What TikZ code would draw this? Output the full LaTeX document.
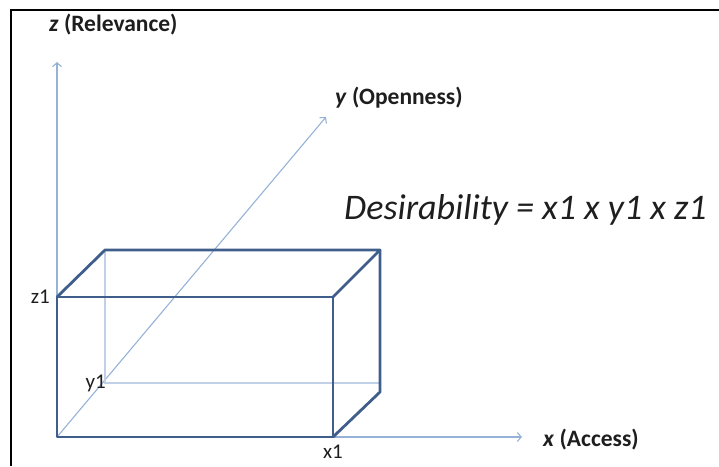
\documentclass[tikz,border=0pt]{standalone}
\usepackage{fontspec}
\setmainfont{Carlito}
\usetikzlibrary{arrows.meta}
\definecolor{boxblue}{RGB}{64,94,140}
\definecolor{axisblue}{RGB}{150,178,214}
\definecolor{backblue}{RGB}{192,208,230}
\definecolor{textgray}{RGB}{30,30,30}

\begin{document}
\begin{tikzpicture}[x=1pt,y=-1pt,
	axis/.style={draw=axisblue,line width=1.1pt,-{Straight Barb[length=4pt,width=9pt]}},
	hidden/.style={draw=backblue,line width=1.3pt},
	boxline/.style={draw=boxblue,line width=2.8pt,line join=round},
	axislabel/.style={anchor=west,inner sep=0pt,text=textgray,font=\fontsize{23.5}{28}\selectfont\bfseries},
	valuelabel/.style={inner sep=0pt,text=textgray,font=\fontsize{21}{25}\selectfont}]
	\useasboundingbox (0,0) rectangle (719,466);
	% frame
	\draw [line width=2.5pt] (11,466) |- (719,10);
	% axes
	\coordinate (o) at (57,437);
	\coordinate (xtip) at (522,437);
	\coordinate (ytip) at (326,117);
	\coordinate (ztip) at (57,62);
	\draw [axis] (o) -- (xtip);
	\draw [axis] (o) -- (ytip);
	\draw [axis] (o) -- (ztip);
	\node [axislabel] (xlab) at (543,440) {\textit{x} (Access)};
	\node [axislabel] (ylab) at (335,98) {\textit{y} (Openness)};
	\node [axislabel] (zlab) at (49,25) {\textit{z} (Relevance)};
	% box corners
	\coordinate (b) at (333,437);
	\coordinate (c) at (333,297);
	\coordinate (d) at (57,297);
	\coordinate (e) at (105,250);
	\coordinate (f) at (380,250);
	\coordinate (g) at (380,392);
	\coordinate (h) at (105,383);
	\coordinate (k) at (380,383);
	% hidden edges
	\draw [hidden] (e) -- (h) -- (k);
	% visible edges
	\draw [boxline] (o) -- (b) -- (c) -- (d) -- cycle;
	\draw [boxline] (d) -- (e) -- (f) -- (c);
	\draw [boxline] (f) -- (g) -- (b);
	% values
	\node [valuelabel,anchor=east] (z1) at ([xshift=-7pt]d) {z1};
	\node [valuelabel,anchor=east] (y1) at ([xshift=1pt]h) {y1};
	\node [valuelabel,anchor=north] (x1) at ([yshift=-8pt]b) {x1};
	\node [anchor=west,inner sep=0pt,text=textgray,font=\fontsize{36}{42}\selectfont\itshape] (des) at (344,210) {Desirability = x1 x y1 x z1};
\end{tikzpicture}
\end{document}
